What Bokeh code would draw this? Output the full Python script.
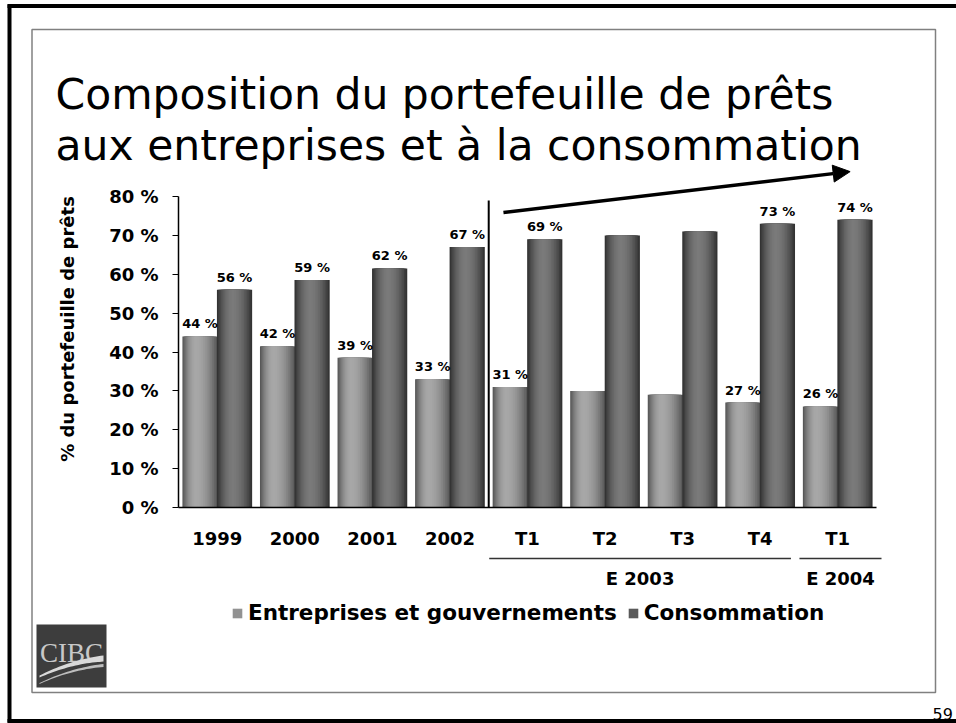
import numpy as np
from bokeh.plotting import figure
from bokeh.models import (Range1d, FixedTicker, PrintfTickFormatter, ColumnDataSource,
                          LabelSet, Arrow, NormalHead, Legend, LegendItem)
from bokeh.transform import dodge
from bokeh.core.properties import value
from bokeh.embed import file_html
from bokeh.resources import INLINE

# ---------------- data ----------------
categories = ["1999", "2000", "2001", "2002", "T1", "T2", "T3", "T4", "T1"]
groups = ["", "", "", "", "E 2003", "E 2003", "E 2003", "E 2003", "E 2004"]
entreprises = [44, 41.5, 38.5, 33, 31, 30, 29, 27, 26]
consommation = [56, 58.5, 61.5, 67, 69, 70, 71, 73, 74]
entreprises_labels = ["44 %", "42 %", "39 %", "33 %", "31 %", "", "", "27 %", "26 %"]
consommation_labels = ["56 %", "59 %", "62 %", "67 %", "69 %", "", "", "73 %", "74 %"]
series_names = ["Entreprises et gouvernements", "Consommation"]
y_ticks = [0, 10, 20, 30, 40, 50, 60, 70, 80]
title_lines = ["Composition du portefeuille de prêts", "aux entreprises et à la consommation"]
y_title = "% du portefeuille de prêts"
page_number = "59"
logo_text = "CIBC"

# ---------------- geometry (page pixels) ----------------
W, H = 956, 723
FL, FR, FT, FB = 178, 876, 150, 507          # chart frame
Y80 = 196                                     # pixel row of the 80 % tick
PX_PER_PCT = (FB - Y80) / 80
CW = (FR - FL) / len(categories)
FONT = "DejaVu Sans"

# ================= background page (decorations) =================
bg = figure(width=W, height=H, x_range=Range1d(0, W), y_range=Range1d(H, 0),
            x_axis_type=None, y_axis_type=None, output_backend="svg",
            toolbar_location=None, min_border=0)
bg.grid.visible = False
bg.outline_line_color = None
bg.styles = {"position": "absolute", "top": "0px", "left": "0px", "z-index": "-1"}

# outer black frame and inner grey box
bg.segment(x0=[9, 7, 7], y0=[4, 5.5, 720.5], x1=[9, W + 10, W + 10], y1=[722, 5.5, 720.5],
           line_color="black", line_width=4)
bg.quad(left=31.5, right=935, top=29, bottom=692, fill_alpha=0,
        line_color="#808080", line_width=1.5)

# title
bg.text(x=[55, 55], y=[94, 145], text=title_lines, text_font=value(FONT),
        text_font_size="42.5px", text_color="black", text_baseline="alphabetic")

# page number
bg.text(x=[932], y=[713], text=[page_number], text_font=value(FONT),
        text_font_size="16px", text_color="black", text_baseline="alphabetic")

# CIBC logo
bg.quad(left=36, right=106, top=624, bottom=687, fill_color="#3d3d3d", line_color=None)
bg.text(x=[71], y=[652], text=[logo_text], text_font=value("Liberation Serif"),
        text_font_size="27px", text_color="#c8c8c8", text_align="center",
        text_baseline="alphabetic")
t = np.linspace(0, 1, 24)
for (y0, y1, th, col) in [(676, 658, 5.0, "#d9d9d9"), (683, 665, 2.5, "#bdbdbd")]:
    cx = 39 + 64 * t
    cy = (1 - t) ** 2 * y0 + 2 * (1 - t) * t * (y1 + 3) + t ** 2 * y1
    half = th / 2 * (0.4 + 0.8 * t)
    bg.patch(x=list(cx) + list(cx[::-1]), y=list(cy - half) + list((cy + half)[::-1]),
             fill_color=col, line_color=None)

# group underlines and labels under the category axis
for g in ["E 2003", "E 2004"]:
    idx = [i for i, gg in enumerate(groups) if gg == g]
    x0 = FL + idx[0] * CW + 0.5
    x1 = FL + (idx[-1] + 1) * CW + (5 if idx[-1] == len(categories) - 1 else -8)
    bg.segment(x0=[x0], y0=[558], x1=[x1], y1=[558], line_color="#333333", line_width=1.5)
    bg.text(x=[(x0 + x1) / 2], y=[578], text=[g], text_font=value(FONT),
            text_font_size="18px", text_font_style="bold", text_color="black",
            text_align="center", text_baseline="middle")

# legend (swatches drawn by off-page proxy bars of the series colours)
swatches = []
for col in ["#929292", "#5a5a5a"]:
    swatches.append(bg.vbar(x=[-100], top=[-100], width=1, fill_color=col, line_color=None))
legend = Legend(items=[LegendItem(label=n, renderers=[r]) for n, r in zip(series_names, swatches)],
                location=(231, H - 625), orientation="horizontal",
                padding=0, margin=0, spacing=10, label_standoff=5,
                glyph_width=12, glyph_height=12,
                label_text_font=FONT, label_text_font_size="21.5px", label_text_font_style="bold",
                label_text_color="black", background_fill_alpha=0, border_line_alpha=0)
bg.add_layout(legend)

# ================= chart =================
p = figure(width=W, height=H, x_range=Range1d(0, len(categories)),
           y_range=Range1d(0, (FB - FT) / PX_PER_PCT),
           output_backend="svg", toolbar_location=None,
           min_border_left=FL, min_border_right=W - FR,
           min_border_top=FT, min_border_bottom=H - FB)
p.xgrid.visible = False
p.ygrid.visible = False
p.outline_line_color = None
p.background_fill_alpha = 0
p.border_fill_alpha = 0

xs = np.arange(len(categories)) + 0.5
BW = 0.445
src = ColumnDataSource(dict(x=xs, ent=entreprises, con=consommation,
                            xl=xs - BW / 2, xr=xs + BW / 2,
                            ent_lbl=entreprises_labels, con_lbl=consommation_labels))

# gradient-shaded bars (nested vbars)
N = 12
shades = [("ent", -BW / 2, 0x58, 0xa8, 0.38), ("con", BW / 2, 0x33, 0x7a, 0.45)]
for field, off, edge, peak, tp in shades:
    for k in range(N):
        frac = 1 - k / N
        a = tp - tp * frac
        b = tp + (1 - tp) * frac
        center = off - BW / 2 + BW * (a + b) / 2
        width = BW * (b - a) * 1.02
        lv = int(round(edge + (peak - edge) * (1 - frac * frac)))
        col = "#%02x%02x%02x" % (lv, lv, lv)
        p.vbar(x=dodge("x", center, range=p.x_range), top=field, width=width,
               source=src, fill_color=col, line_color=None)

# value labels
for xf, yf, tf in [("xl", "ent", "ent_lbl"), ("xr", "con", "con_lbl")]:
    p.add_layout(LabelSet(x=xf, y=yf, text=tf, source=src, y_offset=5,
                          text_align="center", text_baseline="bottom",
                          text_font=value(FONT), text_font_size="13px",
                          text_font_style="bold", text_color="black"))

# separator between annual and quarterly data
first_q = groups.index("E 2003")
p.segment(x0=[first_q], y0=[0], x1=[first_q], y1=[79], line_color="black", line_width=2)

# trend arrow
p.add_layout(Arrow(end=NormalHead(size=17, fill_color="black", line_color="black"),
                   x_start=4.19, y_start=75.9, x_end=8.66, y_end=86.4,
                   line_width=3.5, line_color="black"))

# axes
p.yaxis.ticker = FixedTicker(ticks=y_ticks)
p.yaxis.bounds = (y_ticks[0], y_ticks[-1])
p.yaxis.formatter = PrintfTickFormatter(format="%d %%")
p.yaxis.major_label_text_font = FONT
p.yaxis.major_label_text_font_size = "18px"
p.yaxis.major_label_text_font_style = "bold"
p.yaxis.major_label_text_color = "black"
p.yaxis.major_tick_out = 6
p.yaxis.major_tick_in = 0
p.yaxis.minor_tick_line_color = None
p.yaxis.axis_line_width = 1.5
p.yaxis.axis_line_color = "black"
p.yaxis.major_tick_line_color = "black"
p.yaxis.major_label_standoff = 14
p.yaxis.axis_label = y_title
p.yaxis.axis_label_text_font = FONT
p.yaxis.axis_label_text_font_size = "18px"
p.yaxis.axis_label_text_font_style = "bold"
p.yaxis.axis_label_text_color = "black"
p.yaxis.axis_label_standoff = 28

p.xaxis.ticker = FixedTicker(ticks=list(xs))
p.xaxis.major_label_overrides = {float(x): c for x, c in zip(xs, categories)}
p.xaxis.major_label_text_font = FONT
p.xaxis.major_label_text_font_size = "18px"
p.xaxis.major_label_text_font_style = "bold"
p.xaxis.major_label_text_color = "black"
p.xaxis.major_tick_out = 0
p.xaxis.major_tick_in = 0
p.xaxis.minor_tick_line_color = None
p.xaxis.axis_line_width = 1.5
p.xaxis.axis_line_color = "black"
p.xaxis.major_label_standoff = 20

open("out.html", "w").write(file_html([bg, p], INLINE))
